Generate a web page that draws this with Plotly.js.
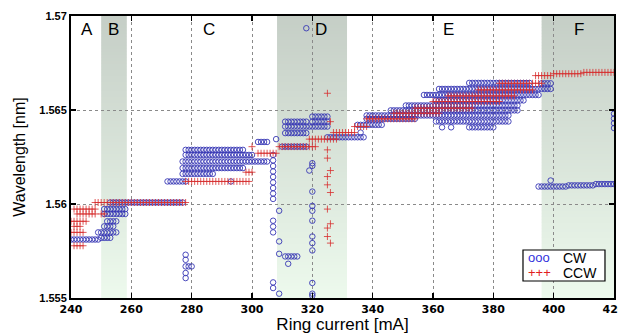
<!DOCTYPE html>
<html>
<head>
<meta charset="utf-8">
<script src="https://cdn.plot.ly/plotly-3.0.1.min.js"></script>
<style>html,body{margin:0;padding:0;background:#fff;}#chart{width:618px;height:334px;}</style>
</head>
<body>
<div id="chart"></div>
<script>
// ---------------- data ----------------
// Ring current sampled every 1 mA; each run = a row of samples at one lasing wavelength
const sampleStep = 1;

// CW (clockwise) runs: start current, end current, wavelength
const cwRunStart = [240, 250, 249, 251, 252, 251, 251, 253,
                    278, 272, 277, 277, 277, 278, 278, 302,
                    311, 310, 311, 311, 311, 320, 320, 325, 335,
                    338, 338, 346, 351, 361, 357, 362, 372, 396, 361, 372,
                    395, 405, 414];
const cwRunEnd   = [249, 253, 255, 254, 255, 258, 258, 277,
                    280, 278, 287, 297, 305, 300, 297, 305,
                    315, 318, 318, 325, 318, 325, 325, 337, 343,
                    354, 385, 388, 388, 390, 395, 399, 392, 399, 385, 380,
                    404, 413, 420];
const cwRunWl    = [1.55811, 1.5582, 1.55849, 1.55881, 1.55908, 1.55947, 1.55973, 1.56008,
                    1.55668, 1.5612, 1.5616, 1.56191, 1.56226, 1.56261, 1.56288, 1.5633,
                    1.55721, 1.56305, 1.56377, 1.56412, 1.56438, 1.56438, 1.56465, 1.56355, 1.56421,
                    1.56453, 1.56471, 1.56498, 1.56524, 1.56551, 1.5658, 1.56612, 1.56644, 1.56642, 1.56439, 1.56408,
                    1.56093, 1.56099, 1.56106];
// CW isolated samples
const cwDotCurrent = [307, 307, 307, 307, 307, 307, 307, 307, 307,
                      309, 307, 307, 307, 309, 309, 307, 307, 309,
                      320, 320, 319, 320, 320, 320, 320, 320, 320, 320, 320, 320, 320,
                      278, 278, 278, 278, 293, 308, 312, 318, 336, 363, 366, 399,
                      420, 420, 420, 420];
const cwDotWl = [1.56261, 1.56232, 1.56202, 1.56173, 1.56144, 1.56115, 1.56085, 1.56056, 1.56027,
                 1.55964, 1.55911, 1.5588, 1.55849, 1.55801, 1.55735, 1.55583, 1.55553, 1.55523,
                 1.56217, 1.56203, 1.56178, 1.56066, 1.5599, 1.55964, 1.55911, 1.55827, 1.55792, 1.55753, 1.5558, 1.55523, 1.55512,
                 1.5573, 1.55703, 1.55633, 1.55606, 1.5612, 1.56345, 1.55682, 1.56935, 1.5638, 1.56408, 1.56408, 1.56125,
                 1.5648, 1.56455, 1.5643, 1.56404];

// CCW (counter-clockwise) runs
const ccwRunStart = [248, 241, 242, 250, 240, 241, 240, 241,
                     278, 298, 302, 309, 319, 327, 334,
                     338, 347, 354, 360, 365, 375, 382, 394, 400, 410];
const ccwRunEnd   = [278, 248, 248, 251, 245, 243, 244, 244,
                     299, 300, 308, 321, 328, 334, 338,
                     354, 362, 373, 382, 387, 393, 396, 399, 409, 420];
const ccwRunWl    = [1.56008, 1.55973, 1.55947, 1.55947, 1.55908, 1.55881, 1.55849, 1.55778,
                     1.5612, 1.56169, 1.5627, 1.56305, 1.56345, 1.5638, 1.56412,
                     1.56453, 1.56483, 1.5651, 1.56545, 1.56575, 1.56607, 1.56642, 1.56683, 1.56693, 1.567];
// CCW isolated samples
const ccwDotCurrent = [300, 325, 326, 325, 325, 326, 325, 325, 326, 325, 326, 325, 325, 326];
const ccwDotWl = [1.56305, 1.56589, 1.56438, 1.56288, 1.56244, 1.56178, 1.56146, 1.56102,
                  1.56061, 1.55973, 1.55895, 1.55872, 1.55827, 1.55792];

// shaded operating regions and their labels
const shadeStart = [250, 308.3, 396];
const shadeEnd   = [258.5, 331.5, 420];
const regionLabels  = ['A', 'B', 'C', 'D', 'E', 'F'];
const regionLabelAt = [245.4, 254, 285.9, 322.8, 365.3, 408.3];

const currentTicks = [240, 260, 280, 300, 320, 340, 360, 380, 400, 420];
const wlTicks = [1.555, 1.56, 1.565, 1.57];
const wlTickText = ['1.555', '1.56', '1.565', '1.57'];

// ---------------- build ----------------
function expand(starts, ends, wls, dotX, dotY) {
  const x = [], y = [];
  for (let i = 0; i < starts.length; i++) {
    for (let c = starts[i]; c <= ends[i] + 1e-9; c += sampleStep) { x.push(c); y.push(wls[i]); }
  }
  for (let i = 0; i < dotX.length; i++) { x.push(dotX[i]); y.push(dotY[i]); }
  return {x, y};
}
const cw = expand(cwRunStart, cwRunEnd, cwRunWl, cwDotCurrent, cwDotWl);
const ccw = expand(ccwRunStart, ccwRunEnd, ccwRunWl, ccwDotCurrent, ccwDotWl);

const traces = [
  {type: 'scatter', mode: 'markers', name: 'CW', x: cw.x, y: cw.y,
   marker: {symbol: 'circle-open', size: 5.5, color: 'rgb(55,55,180)', line: {width: 0.9}}},
  {type: 'scatter', mode: 'markers', name: 'CCW', x: ccw.x, y: ccw.y,
   marker: {symbol: 'cross-thin-open', size: 5, color: 'rgb(215,45,45)', line: {width: 0.8}}}
];

const shapes = [];
const yMin = 1.555, yMax = 1.57, nBands = 94;
const bottomCol = [237, 250, 237], topCol = [197, 206, 198];
for (let r = 0; r < shadeStart.length; r++) {
  for (let b = 0; b < nBands; b++) {
    const t = (b + 0.5) / nBands;
    const c = bottomCol.map((v, k) => Math.round(v + (topCol[k] - v) * t));
    shapes.push({type: 'rect', xref: 'x', yref: 'y', layer: 'below',
      x0: shadeStart[r], x1: shadeEnd[r],
      y0: yMin + (yMax - yMin) * b / nBands, y1: yMin + (yMax - yMin) * (b + 1.05) / nBands,
      fillcolor: `rgb(${c[0]},${c[1]},${c[2]})`, line: {width: 0}});
  }
}
// legend box
shapes.push({type: 'rect', xref: 'paper', yref: 'paper', layer: 'above',
  x0: 0.8324, x1: 0.9834, y0: 0.0603, y1: 0.1702,
  fillcolor: 'white', line: {color: 'black', width: 1.2}});

const annotations = regionLabels.map((t, i) => ({
  text: t, x: regionLabelAt[i], xref: 'x', y: 0.953, yref: 'paper',
  showarrow: false, xanchor: 'center', yanchor: 'middle',
  font: {family: 'Liberation Sans, Arial, sans-serif', size: 17, color: 'black'}
}));
const legFont = {family: 'Liberation Sans, Arial, sans-serif', size: 14, color: 'black'};
annotations.push(
  {text: 'ooo', x: 0.862, y: 0.142, xref: 'paper', yref: 'paper', showarrow: false, xanchor: 'center', yanchor: 'middle',
   borderpad: 0, font: {family: 'Liberation Sans, Arial, sans-serif', size: 13, color: 'rgb(50,50,220)'}},
  {text: '+++', x: 0.862, y: 0.09, xref: 'paper', yref: 'paper', showarrow: false, xanchor: 'center', yanchor: 'middle',
   borderpad: 0, font: {family: 'Liberation Sans, Arial, sans-serif', size: 13, color: 'rgb(225,30,30)'}},
  {text: 'CW', x: 0.905, y: 0.142, xref: 'paper', yref: 'paper', showarrow: false, xanchor: 'left', yanchor: 'middle',
   borderpad: 0, font: legFont},
  {text: 'CCW', x: 0.905, y: 0.09, xref: 'paper', yref: 'paper', showarrow: false, xanchor: 'left', yanchor: 'middle',
   borderpad: 0, font: legFont}
);

const layout = {
  width: 618, height: 334,
  margin: {l: 71, r: 4, t: 16, b: 36, pad: 0},
  paper_bgcolor: 'white', plot_bgcolor: 'white',
  showlegend: false,
  font: {family: 'Liberation Sans, Arial, sans-serif', color: 'black'},
  xaxis: {
    range: [240, 420], tickvals: currentTicks, ticktext: currentTicks.map(String),
    ticks: 'inside', ticklen: 5, tickwidth: 1.5, tickcolor: 'black',
    showline: true, linewidth: 2, linecolor: 'black', mirror: 'ticks',
    showgrid: true, gridcolor: '#8a8a8a', griddash: 'dot', gridwidth: 1, zeroline: false,
    ticklabeloverflow: 'allow',
    tickfont: {family: 'DejaVu Sans, sans-serif', size: 11, weight: 'bold', color: 'black'},
    title: {text: 'Ring current [mA]', font: {family: 'Liberation Sans, Arial, sans-serif', size: 17, color: 'black'}, standoff: 4},
    automargin: false
  },
  yaxis: {
    range: [1.555, 1.57], tickvals: wlTicks, ticktext: wlTickText,
    ticks: 'inside', ticklen: 5, tickwidth: 1.5, tickcolor: 'black',
    showline: true, linewidth: 2, linecolor: 'black', mirror: 'ticks',
    showgrid: true, gridcolor: '#8a8a8a', griddash: 'dot', gridwidth: 1, zeroline: false,
    tickfont: {family: 'Liberation Sans, Arial, sans-serif', size: 11, weight: 'bold', color: 'black'},
    title: {text: 'Wavelength [nm]', font: {family: 'Liberation Sans, Arial, sans-serif', size: 16, color: 'black'}, standoff: 10},
    automargin: false
  },
  shapes: shapes,
  annotations: annotations
};

Plotly.newPlot('chart', traces, layout, {displayModeBar: false, staticPlot: true});
</script>
</body>
</html>
